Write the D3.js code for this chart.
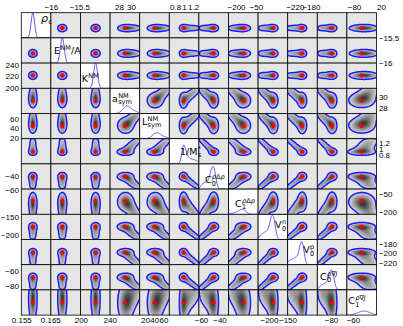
<!DOCTYPE html>
<html>
<head>
<meta charset="utf-8">
<script src="https://cdn.jsdelivr.net/npm/d3@7"></script>
<style>
  html, body { margin: 0; padding: 0; background: #fff; }
  svg { display: block; }
</style>
</head>
<body>
<svg id="chart" width="403" height="326"></svg>
<script>
(function () {
  'use strict';

  /* ------------------------------------------------------------
     Data
  ------------------------------------------------------------ */
  // parameters, in grid order
  var labels = [
    { base: 'ρ', sub: 'c' },
    { base: 'E', sup: 'NM', tail: '/A' },
    { base: 'K', sup: 'NM' },
    { base: 'a', sup: 'NM', sub: 'sym' },
    { base: 'L', sup: 'NM', sub: 'sym' },
    { base: '1/M', sup: '*', sub: 's' },
    { base: 'C', sup: 'ρΔρ', sub: '0' },
    { base: 'C', sup: 'ρΔρ', sub: '1' },
    { base: 'V', sup: 'n', sub: '0' },
    { base: 'V', sup: 'p', sub: '0' },
    { base: 'C', sup: 'ρ∇J', sub: '0' },
    { base: 'C', sup: 'ρ∇J', sub: '1' }
  ];

  // axis windows (x: along the columns, y: along the rows)
  var xDomains = [[0.155, 0.1652], [-16.0, -15.48], [199.5, 240.5], [26.52, 31.45],
                  [8.6, 72.5], [0.673, 1.33], [-62.3, -30.3], [-257, -34],
                  [-229.4, -149.5], [-238, -164], [-92.5, -65.5], [-106.3, 3.3]];
  var yDomains = [[0.155, 0.1652], [-16, -15.5], [198.8, 243.2], [26.86, 31.66],
                  [17.4, 71.9], [0.496, 1.357], [-58.7, -22.7], [-222, -8.5],
                  [-212.3, -143.4], [-224, -170.9], [-85.2, -51.6], [-106.3, 3.3]];

  var xTicks = [[0.155, 0.165], [-16, -15.5], [200, 240], [28, 30], [20, 40, 60],
                [0.8, 1, 1.2], [-60, -40], [-200, -50], [-200, -150], [-220, -180],
                [-80, -60], [-80, 20]];
  var yTicks = [null, [-16, -15.5], [200, 220, 240], [28, 30], [20, 40, 60],
                [0.8, 1, 1.2], [-60, -40], [-200, -50], [-200, -150],
                [-220, -200, -180], [-80, -60], null];

  // the row windows are narrower than the column windows for a few parameters
  var rowStretch = [1, 1, 1, 1.1, 1.15, 1, 1, 1.5, 1, 1, 1, 1.8];

  // peak height of each 1-D histogram on the diagonal (fraction of the panel)
  var diagPeak = [1.0, 1.0, 1.0, 0.3, 0.24, 0.75, 0.9, 0.2, 0.97, 0.92, 0.8, 0.16];

  // best fit point, unit coordinates of each window
  var best = [0.39, 0.385, 0.51, 0.50, 0.50, 0.48, 0.50, 0.52, 0.51, 0.49, 0.50, 0.50];

  // posterior read as a few gaussian clumps (unit coordinates)
  //              rhoc   E/A    K     asym  Lsym  1/M*  C0dd  C1dd  V0n   V0p   C0dj  C1dj
  var clumpWeight = [1, 0.3, 0.22, 0.17, 0.13, 0.1];
  var clumpMean = [
    [0.39, 0.385, 0.51, 0.52, 0.52, 0.48, 0.50, 0.50, 0.51, 0.49, 0.50, 0.50],
    [0.39, 0.385, 0.51, 0.60, 0.60, 0.58, 0.41, 0.43, 0.42, 0.40, 0.41, 0.56],
    [0.39, 0.385, 0.51, 0.68, 0.68, 0.67, 0.33, 0.35, 0.33, 0.30, 0.33, 0.62],
    [0.39, 0.385, 0.51, 0.76, 0.76, 0.77, 0.24, 0.26, 0.24, 0.21, 0.24, 0.68],
    [0.39, 0.385, 0.51, 0.84, 0.84, 0.86, 0.16, 0.18, 0.16, 0.12, 0.16, 0.74],
    [0.39, 0.385, 0.51, 0.92, 0.92, 0.95, 0.08, 0.10, 0.08, 0.04, 0.08, 0.80]
  ];
  var clumpSd = [
    [0.06, 0.065, 0.065, 0.12, 0.12, 0.06, 0.07, 0.11, 0.07, 0.065, 0.07, 0.20],
    [0.06, 0.065, 0.065, 0.09, 0.09, 0.05, 0.05, 0.09, 0.05, 0.05, 0.05, 0.16],
    [0.06, 0.065, 0.065, 0.09, 0.09, 0.05, 0.05, 0.09, 0.05, 0.05, 0.05, 0.16],
    [0.06, 0.065, 0.065, 0.09, 0.09, 0.05, 0.05, 0.09, 0.05, 0.05, 0.05, 0.16],
    [0.06, 0.065, 0.065, 0.09, 0.09, 0.05, 0.05, 0.09, 0.05, 0.05, 0.05, 0.16],
    [0.06, 0.065, 0.065, 0.09, 0.09, 0.05, 0.05, 0.09, 0.05, 0.05, 0.05, 0.16]
  ];

  /* ------------------------------------------------------------
     Layout
  ------------------------------------------------------------ */
  var N = labels.length;
  var cols = d3.scaleBand().domain(d3.range(N)).range([21.3, 376.5]);
  var rows = d3.scaleBand().domain(d3.range(N)).range([12.7, 315.1]);
  var labelPos = [[19.7, 9], [3.1, 16.1], [1.2, 18.6], [1.9, 13.7], [2.3, 11.5],
                  [10.7, 16.3], [6, 19.4], [6.5, 17.6], [17, 14], [15.6, 13.8],
                  [2.7, 15.3], [1.4, 14.4]];

  var NX = 56, NY = 48, EXT = 0.1, THR = 0.06;
  var BG = 229, DARK = 55;
  var FONT = '"DejaVu Sans", sans-serif';
  var TICKFONT = '"Liberation Sans", Arial, sans-serif';

  var svg = d3.select('#chart');
  var defs = svg.append('defs');

  function gauss(x, m, s) {
    var z = (x - m) / s;
    return Math.exp(-0.5 * z * z) / s;
  }

  // rows use a stretched copy of the unit coordinate
  function rowScale(i) {
    return d3.scaleLinear().domain([0.5 - 0.5 / rowStretch[i], 0.5 + 0.5 / rowStretch[i]]).range([0, 1]);
  }

  function dens2(i, j, u, w) {
    var s = 0;
    for (var c = 0; c < clumpWeight.length; c++) {
      s += clumpWeight[c] * gauss(u, clumpMean[c][j], clumpSd[c][j]) *
           gauss(w, clumpMean[c][i], clumpSd[c][i]);
    }
    return s;
  }

  function dens1(k, u) {
    var s = 0;
    for (var c = 0; c < clumpWeight.length; c++) {
      s += clumpWeight[c] * gauss(u, clumpMean[c][k], clumpSd[c][k]);
    }
    return s;
  }

  function rich(sel, str) {
    Array.from(str).forEach(function (ch) {
      sel.append('tspan')
        .style('font-style', (ch === 'ρ' || ch === 'J') ? 'italic' : 'normal')
        .text(ch);
    });
    return sel;
  }

  function drawLabel(g, k, x, y) {
    var lab = labels[k];
    var t = g.append('text').attr('x', x).attr('y', y)
      .attr('font-size', k === 0 ? 11 : 9.5);
    rich(t, lab.base);
    var bw = t.node().getComputedTextLength();
    var sw = 0, bw2 = 0;
    if (lab.sup) {
      var s = g.append('text').attr('x', x + bw + 0.3).attr('y', y - 4.2).attr('font-size', 6.6);
      rich(s, lab.sup);
      sw = s.node().getComputedTextLength();
    }
    if (lab.sub) {
      var b = g.append('text').attr('x', x + bw + 0.3).attr('y', y + 2.4).attr('font-size', 6.6);
      rich(b, lab.sub);
      bw2 = b.node().getComputedTextLength();
    }
    if (lab.tail) {
      g.append('text').attr('x', x + bw + Math.max(sw, bw2) + 0.4).attr('y', y)
        .attr('font-size', 9.5).text(lab.tail);
    }
  }

  var panels = svg.append('g').attr('font-family', FONT);
  var labelLayer = svg.append('g').attr('font-family', FONT);

  d3.range(N).forEach(function (i) {       // row -> y parameter
    d3.range(N).forEach(function (j) {     // col -> x parameter
      var left = cols(j), top = rows(i);
      var pw = cols.bandwidth(), ph = rows.bandwidth();
      var xs = d3.scaleLinear().domain([0, 1]).range([left, left + pw]);
      var ys = d3.scaleLinear().domain([0, 1]).range([top + ph, top]);
      var clipId = 'clip-' + i + '-' + j;
      defs.append('clipPath').attr('id', clipId)
        .append('rect').attr('x', left).attr('y', top).attr('width', pw).attr('height', ph);
      var g = panels.append('g');
      var inner = g.append('g').attr('clip-path', 'url(#' + clipId + ')');

      if (i === j) {
        inner.append('rect').attr('x', left).attr('y', top)
          .attr('width', pw).attr('height', ph).attr('fill', '#fff');
        var us = d3.range(0, 1.0001, 0.01);
        var peak = d3.max(us, function (u) { return dens1(i, u); });
        var hs = d3.scaleLinear().domain([0, peak / diagPeak[i]]).range([top + ph, top]).clamp(true);
        inner.append('path')
          .attr('d', d3.line().x(function (u) { return xs(u); })
                              .y(function (u) { return hs(dens1(i, u)); })(us))
          .attr('fill', 'none').attr('stroke', '#4646ff').attr('stroke-width', 0.9);
        var lp = labelPos[i];
        drawLabel(labelLayer, i, left + lp[0], top + lp[1]);
      } else {
        var rs = rowScale(i);
        var vals = new Float64Array(NX * NY), vmax = 0;
        var gu = d3.scaleLinear().domain([0, NX]).range([-EXT, 1 + EXT]);
        var gw = d3.scaleLinear().domain([0, NY]).range([1 + EXT, -EXT]);
        for (var gy = 0; gy < NY; gy++) {
          var wUnit = rs.invert(gw(gy + 0.5));
          for (var gx = 0; gx < NX; gx++) {
            var v = dens2(i, j, gu(gx + 0.5), wUnit);
            vals[gy * NX + gx] = v;
            if (v > vmax) vmax = v;
          }
        }
        // shaded density
        var cv = document.createElement('canvas');
        cv.width = NX; cv.height = NY;
        var ctx = cv.getContext('2d');
        var img = ctx.createImageData(NX, NY);
        for (var p = 0; p < NX * NY; p++) {
          var f = Math.max(0, (vals[p] / vmax - THR * 0.6) / (1 - THR * 0.6));
          var c = Math.round(BG - (BG - DARK) * Math.pow(f, 0.7));
          img.data[4 * p] = c; img.data[4 * p + 1] = c; img.data[4 * p + 2] = c; img.data[4 * p + 3] = 255;
        }
        ctx.putImageData(img, 0, 0);
        inner.append('image')
          .attr('href', cv.toDataURL())
          .attr('x', xs(-EXT)).attr('y', ys(1 + EXT))
          .attr('width', xs(1 + EXT) - xs(-EXT)).attr('height', ys(-EXT) - ys(1 + EXT))
          .attr('preserveAspectRatio', 'none');

        // contour line
        var px = d3.scaleLinear().domain([0, NX]).range([xs(-EXT), xs(1 + EXT)]);
        var py = d3.scaleLinear().domain([0, NY]).range([ys(1 + EXT), ys(-EXT)]);
        var proj = d3.geoTransform({
          point: function (x, y) { this.stream.point(px(x), py(y)); }
        });
        var cont = d3.contours().size([NX, NY]).thresholds([THR * vmax])(Array.from(vals));
        inner.selectAll('path.cont').data(cont).join('path')
          .attr('class', 'cont')
          .attr('d', d3.geoPath(proj))
          .attr('fill', 'none').attr('stroke', '#1a1aff').attr('stroke-width', 1.5)
          .attr('stroke-linejoin', 'round');

        // best fit
        inner.append('circle')
          .attr('cx', xs(best[j])).attr('cy', ys(rs(best[i]))).attr('r', 2.1)
          .attr('fill', '#ff0000');
      }
      g.append('rect').attr('x', left).attr('y', top)
        .attr('width', pw).attr('height', ph)
        .attr('fill', 'none').attr('stroke', '#000').attr('stroke-width', 0.8);
    });
  });

  /* ------------------------------------------------------------
     Axes
  ------------------------------------------------------------ */
  function fmt(d) { return (d < 0 ? '\u2212' : '') + Math.abs(d); }

  function styleAxis(g) {
    g.select('.domain').remove();
    g.attr('font-family', TICKFONT).attr('font-size', 8);
    g.selectAll('text').attr('fill', '#000');
  }

  d3.range(N).forEach(function (j) {
    if (!xTicks[j]) return;
    var sc = d3.scaleLinear().domain(xDomains[j]).range([cols(j), cols(j) + cols.bandwidth()]);
    var bottom = j % 2 === 0;
    var ax = (bottom ? d3.axisBottom(sc) : d3.axisTop(sc))
      .tickValues(xTicks[j]).tickSize(0).tickPadding(bottom ? 2.6 : 2.8).tickFormat(fmt);
    svg.append('g')
      .attr('transform', 'translate(0,' + (bottom ? rows.range()[1] : rows.range()[0]) + ')')
      .call(ax).call(styleAxis);
  });

  d3.range(N).forEach(function (i) {
    if (!yTicks[i]) return;
    var sc = d3.scaleLinear().domain(yDomains[i]).range([rows(i) + rows.bandwidth(), rows(i)]);
    var leftSide = i % 2 === 0;
    var ax = (leftSide ? d3.axisLeft(sc) : d3.axisRight(sc))
      .tickValues(yTicks[i]).tickSize(0).tickPadding(2.4).tickFormat(fmt);
    svg.append('g')
      .attr('transform', 'translate(' + (leftSide ? cols.range()[0] : cols.range()[1]) + ',0)')
      .call(ax).call(styleAxis);
  });
})();
</script>
</body>
</html>
